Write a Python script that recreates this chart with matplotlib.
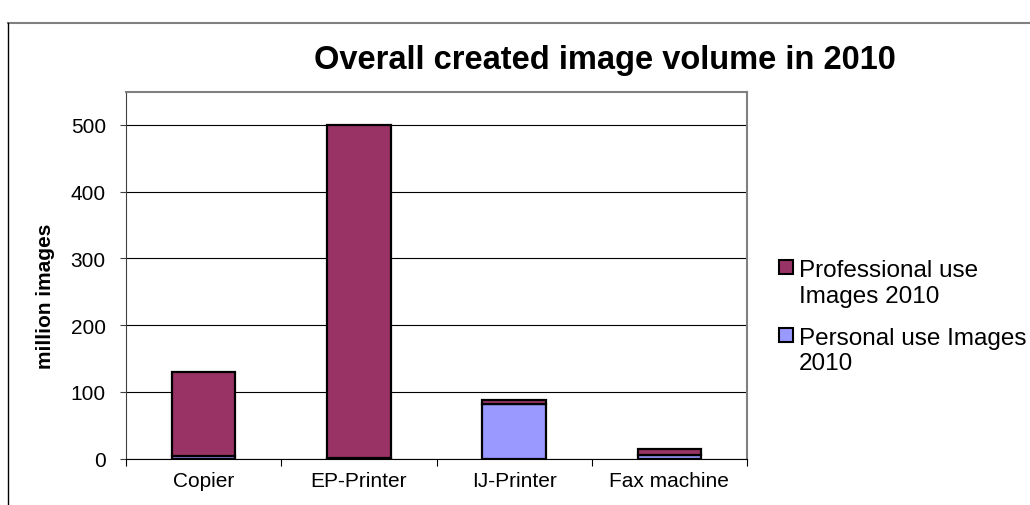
import numpy as np
import matplotlib.pyplot as plt
from matplotlib.patches import Rectangle
from matplotlib.lines import Line2D

plt.rcParams['font.family'] = ['Liberation Sans', 'DejaVu Sans']

# dados
categorias = ['Copier', 'EP-Printer', 'IJ-Printer', 'Fax machine']
pessoal = [4, 1, 82, 5]          # Personal use Images 2010
profissional = [126, 499, 5, 9]  # Professional use Images 2010
yticks = [0, 100, 200, 300, 400, 500]
legendas = ['Professional use\nImages 2010', 'Personal use Images\n2010']

cor_prof = '#993366'
cor_pess = '#9999ff'

W, H = 1030, 506
fig = plt.figure(figsize=(W / 100, H / 100), dpi=100)
ax = fig.add_axes([126 / W, 1 - 459.5 / H, 621 / W, 367 / H])

x = np.arange(len(categorias))
ax.bar(x, pessoal, width=0.41, color=cor_pess, edgecolor='black', lw=1.6, zorder=3)
ax.bar(x, profissional, width=0.41, bottom=pessoal, color=cor_prof,
       edgecolor='black', lw=1.6, zorder=3)

ax.set_xlim(-0.5, len(categorias) - 0.5)
ax.set_ylim(0, 550)
ax.set_yticks(yticks)
ax.set_yticklabels([str(v) for v in yticks], fontsize=15)
ax.yaxis.grid(True, color='black', lw=0.8, zorder=0)

# rotulos do eixo x no centro, ticks entre categorias
ax.set_xticks(x)
ax.set_xticklabels(categorias, fontsize=15)
ax.tick_params(axis='x', length=0, pad=9)
ax.set_xticks(np.arange(-0.5, len(categorias)), minor=True)
ax.tick_params(axis='x', which='minor', length=5, width=0.8, color='black')
ax.tick_params(axis='y', length=4.5, width=0.8, color='#404040', pad=10)

for lado in ['top', 'right']:
    ax.spines[lado].set_color('#808080')
    ax.spines[lado].set_linewidth(1.5)
ax.spines['left'].set_color('#404040')
ax.spines['bottom'].set_color('black')

# titulo do eixo y (centrado um pouco abaixo do meio, como no original)
fig.text(45.5 / W, 1 - 296 / H, 'million images', fontsize=15, fontweight='bold',
         rotation=90, ha='center', va='center')
fig.text(605 / W, 1 - 60 / H, 'Overall created image volume in 2010', fontsize=23.5,
         fontweight='bold', ha='center', va='center')

# legenda (marcador alinhado com a primeira linha, como no Excel)
cores = [cor_prof, cor_pess]
for i, (rot, cor) in enumerate(zip(legendas, cores)):
    base = 275 + i * 68
    fig.add_artist(Rectangle((779 / W, 1 - base / H), 14 / W, 14 / H,
                             facecolor=cor, edgecolor='black', lw=1.5,
                             transform=fig.transFigure))
    fig.text(799 / W, 1 - (base + 27.5) / H, rot, fontsize=17.5, ha='left',
             va='baseline', linespacing=1.18)

# borda externa do grafico
fig.add_artist(Line2D([7.5 / W, 1.0], [1 - 24 / H, 1 - 24 / H], color='#808080', lw=1.5))
fig.add_artist(Line2D([7.5 / W, 7.5 / W], [0.0, 1 - 24 / H], color='black', lw=1.0))

fig.savefig('out.png', dpi=100)
